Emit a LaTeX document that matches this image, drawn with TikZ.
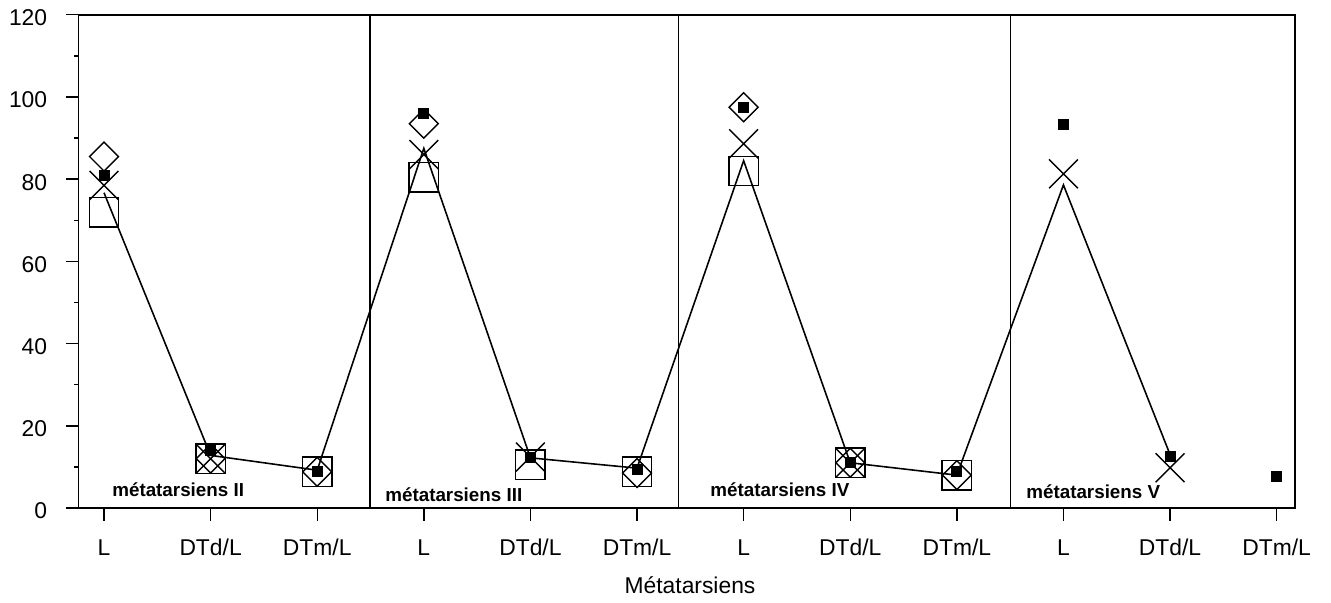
\documentclass[tikz,border=0pt]{standalone}
\usepackage{fontspec}
\setmainfont{Liberation Sans}
\usetikzlibrary{plotmarks}
\tikzset{
  frameline/.style={line width=1.1pt},
  sepline/.style={line width=0.6pt},
  tickline/.style={line width=0.8pt},
  dataline/.style={line width=0.9pt},
  ticklab/.style={font=\fontsize{13}{15}\selectfont, inner sep=0pt},
  grouplab/.style={font=\bfseries\fontsize{10.7}{12}\selectfont, inner sep=0pt, anchor=base west},
  boxmark/.style={only marks, mark=square, mark size=8.4pt, mark options={line width=0.8pt}},
  diamark/.style={only marks, mark=square, mark size=5.8pt, mark options={rotate=45, line width=0.8pt}},
  crossmark/.style={only marks, mark=x, mark size=11.6pt, mark options={line width=0.8pt}},
  dotmark/.style={only marks, mark=square*, mark size=2.85pt, mark options={fill=black, line width=0.4pt}}
}
\begin{document}
\begin{tikzpicture}[x=2.132cm, y=0.0822cm]
\useasboundingbox (0.0244,-23.11) rectangle (12.51,123.6);
% frame and group separators
\draw [frameline] (0.761,120) -- (0.761,0) -- (12.17,0) -- (12.17,120) -- cycle;
\draw [sepline] (3.495,0) -- (3.495,120);
\draw [sepline] (6.385,0) -- (6.385,120);
\draw [sepline] (9.5,0) -- (9.5,120);
% y axis
\foreach \v in {0,20,...,120} {
  \draw [tickline] (0.761,\v) -- ++(-0.26cm,0);
  \node [ticklab, anchor=east, yshift=-0.06cm] (y\v) at (0.47,\v) {\v};
}
\foreach \v in {10,30,...,110}
  \draw [tickline] (0.761,\v) -- ++(-0.1cm,0);
% x axis
\foreach \i in {1,...,12}
  \draw [tickline] (\i,0) -- ++(0,-0.26cm);
\foreach \i in {1,4,7,10}
  \node [ticklab, anchor=base] (catL\i) at (\i,-11.6) {L};
\foreach \i in {2,5,8,11}
  \node [ticklab, anchor=base] (catD\i) at (\i,-11.6) {DTd/L};
\foreach \i in {3,6,9,12}
  \node [ticklab, anchor=base] (catM\i) at (\i,-11.6) {DTm/L};
\node [ticklab, anchor=base] (title) at (6.497,-20.7) {Métatarsiens};
% group names
\node [grouplab] (grpII) at (1.075,2.7) {métatarsiens II};
\node [grouplab] (grpIII) at (3.636,1.5) {métatarsiens III};
\node [grouplab] (grpIV) at (6.685,2.7) {métatarsiens IV};
\node [grouplab] (grpV) at (9.649,2.2) {métatarsiens V};
% data
\draw [dataline] plot coordinates {(1,76.7) (2,12.8) (3,9.2) (4,87.5) (5,12.2) (6,9.7) (7,84.5) (8,11) (9,8) (10,78.6) (11,13)};
\draw plot [boxmark] coordinates {(1,72) (2,12) (3,8.8) (4,80.5) (5,10.5) (6,8.8) (7,82) (8,11) (9,8)};
\draw plot [diamark] coordinates {(1,85.5) (2,12) (3,8.8) (4,93.5) (6,8.5) (7,97.5) (8,11) (9,8)};
\draw plot [crossmark] coordinates {(1,78.5) (2,12) (4,86) (5,12.4) (7,88.6) (8,11) (10,81.3) (11,9.8)};
\draw plot [dotmark] coordinates {(1,81) (2,14) (3,9) (4,96) (5,12.4) (6,9.5) (7,97.5) (8,11.2) (9,8.8) (10,93.3) (11,12.5) (12,7.6)};
\end{tikzpicture}
\end{document}
